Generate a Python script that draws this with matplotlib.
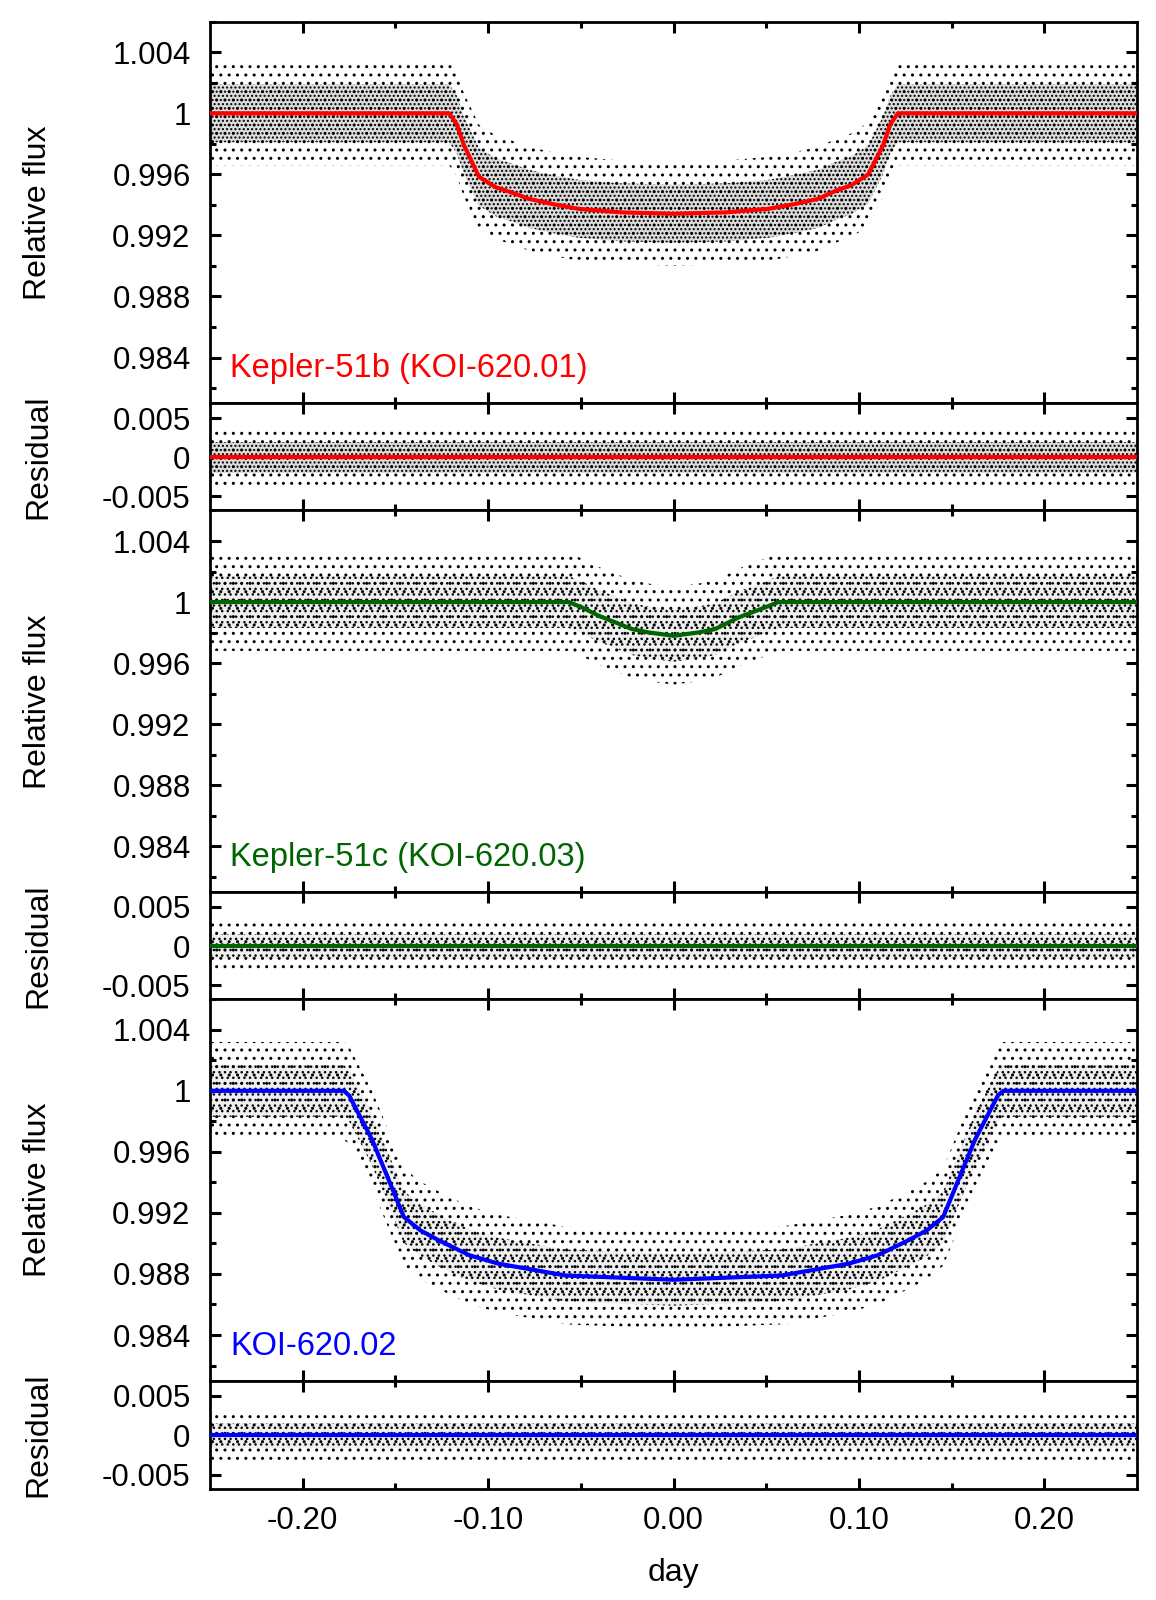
import matplotlib.pyplot as plt
import numpy as np

plt.rcParams['font.family'] = ['Liberation Sans', 'DejaVu Sans']
plt.rcParams['hatch.linewidth'] = 1.0

# transit model curves (day, relative flux)
b_t = [-0.25, -0.121, -0.117, -0.113, -0.105, -0.096, -0.087, -0.078, -0.065, -0.051, -0.028, 0.0,
       0.028, 0.051, 0.065, 0.078, 0.087, 0.096, 0.105, 0.113, 0.117, 0.121, 0.25]
b_f = [1.0, 1.0, 0.9993, 0.9979, 0.99585, 0.99516, 0.9948, 0.9944, 0.99405, 0.99374, 0.99351, 0.99342,
       0.99351, 0.99374, 0.99405, 0.9944, 0.9949, 0.9953, 0.9960, 0.9979, 0.9993, 1.0, 1.0]

c_t = [-0.25, -0.0565, -0.0494, -0.0403, -0.0224, -0.0134, 0.0, 0.0134, 0.0224, 0.0352, 0.0494, 0.0565, 0.25]
c_f = [1.0, 1.0, 0.99965, 0.9991, 0.99823, 0.99801, 0.99779, 0.99801, 0.99823, 0.9990, 0.99965, 1.0, 1.0]

d_t = [-0.25, -0.1779, -0.175, -0.172, -0.1626, -0.1536, -0.1455, -0.1366, -0.1266, -0.11, -0.0943, -0.0583, 0.0,
       0.0583, 0.0943, 0.11, 0.1266, 0.1366, 0.1455, 0.1536, 0.1626, 0.172, 0.175, 0.1779, 0.25]
d_f = [1.0, 1.0, 0.9997, 0.9990, 0.9968, 0.99415, 0.99174, 0.99086, 0.9902, 0.98922, 0.98867, 0.9879, 0.98762,
       0.9879, 0.98867, 0.98922, 0.9902, 0.99086, 0.99174, 0.99415, 0.9968, 0.9990, 0.9997, 1.0, 1.0]

# spread of the photometric points around the model (core, outer)
b_spread = (0.0019, 0.0034)
c_spread = (0.0017, 0.0032)
d_spread = (0.0017, 0.0032)
b_res_spread = (0.0020, 0.0035)
c_res_spread = (0.0016, 0.0031)
d_res_spread = (0.0016, 0.0031)

names = ['Kepler-51b (KOI-620.01)', 'Kepler-51c (KOI-620.03)', 'KOI-620.02']
colors = ['#ff0000', '#006400', '#0000ff']
hatches = [('....', '..'), ('...', '..'), ('...', '..')]
core_fill = ['#dcdcdc', '#efefef', '#efefef']

flux_ticks = [0.984, 0.988, 0.992, 0.996, 1.0, 1.004]
flux_ticklabels = ['0.984', '0.988', '0.992', '0.996', '1', '1.004']
res_ticks = [-0.005, 0.0, 0.005]
res_ticklabels = ['-0.005', '0', '0.005']
day_ticks = [-0.20, -0.10, 0.00, 0.10, 0.20]
day_ticklabels = ['-0.20', '-0.10', '0.00', '0.10', '0.20']

models = [(b_t, b_f), (c_t, c_f), (d_t, d_f)]
spreads = [b_spread, c_spread, d_spread]
res_spreads = [b_res_spread, c_res_spread, d_res_spread]

fig = plt.figure(figsize=(11.56, 16), dpi=100)
gs = fig.add_gridspec(6, 1, left=0.1817, right=0.9836, top=0.9864, bottom=0.0694,
                      height_ratios=[381, 107, 381, 107, 381, 108], hspace=0)

axes = []
for i in range(3):
    ax = fig.add_subplot(gs[2 * i])
    rax = fig.add_subplot(gs[2 * i + 1])
    t = np.array(models[i][0])
    f = np.array(models[i][1])
    core, outer = spreads[i]
    hc, ho = hatches[i]
    ax.fill_between(t, f - core, f + core, facecolor=core_fill[i], linewidth=0, zorder=0)
    ax.fill_between(t, f - outer, f + outer, facecolor='none', edgecolor='black',
                    linewidth=0, hatch=ho, zorder=1)
    ax.fill_between(t, f - core, f + core, facecolor='none', edgecolor='black',
                    linewidth=0, hatch=hc, zorder=1)
    ax.plot(t, f, color=colors[i], lw=3.0, zorder=3)
    ax.text(0.0216, 0.09, names[i], color=colors[i], fontsize=23.5,
            transform=ax.transAxes, va='center', ha='left')
    ax.set_ylim(0.981, 1.006)
    ax.set_yticks(flux_ticks)
    ax.set_yticklabels(flux_ticklabels)
    ax.set_yticks(np.arange(0.982, 1.006, 0.004), minor=True)
    ax.set_ylabel('Relative flux', fontsize=23)

    rc, ro = res_spreads[i]
    rt = [-0.25, 0.25]
    rax.fill_between(rt, [-rc, -rc], [rc, rc], facecolor=core_fill[i], linewidth=0, zorder=0)
    rax.fill_between(rt, [-ro, -ro], [ro, ro], facecolor='none', edgecolor='black',
                     linewidth=0, hatch=ho, zorder=1)
    rax.fill_between(rt, [-rc, -rc], [rc, rc], facecolor='none', edgecolor='black',
                     linewidth=0, hatch=hc, zorder=1)
    rax.plot(rt, [0, 0], color=colors[i], lw=3.0, zorder=3)
    rax.set_ylim(-0.0068, 0.0069)
    rax.set_yticks(res_ticks)
    rax.set_yticklabels(res_ticklabels)
    rax.set_ylabel('Residual', fontsize=23)
    axes += [ax, rax]

for a in axes:
    a.set_xlim(-0.25, 0.25)
    a.set_xticks(day_ticks)
    a.set_xticks([-0.15, -0.05, 0.05, 0.15], minor=True)
    a.tick_params(which='both', direction='in', top=True, right=True, width=2.2,
                  labelsize=22.5, pad=12)
    a.tick_params(which='major', length=8)
    a.tick_params(which='minor', length=4)
    a.tick_params(axis='y', pad=14)
    for s in a.spines.values():
        s.set_linewidth(2.0)
    a.yaxis.set_label_coords(-0.169, 0.5)
    if a is not axes[-1]:
        a.tick_params(labelbottom=False)

axes[-1].set_xticklabels(day_ticklabels)
axes[-1].set_xlabel('day', fontsize=23, labelpad=16)

fig.savefig('out.png', dpi=100)
